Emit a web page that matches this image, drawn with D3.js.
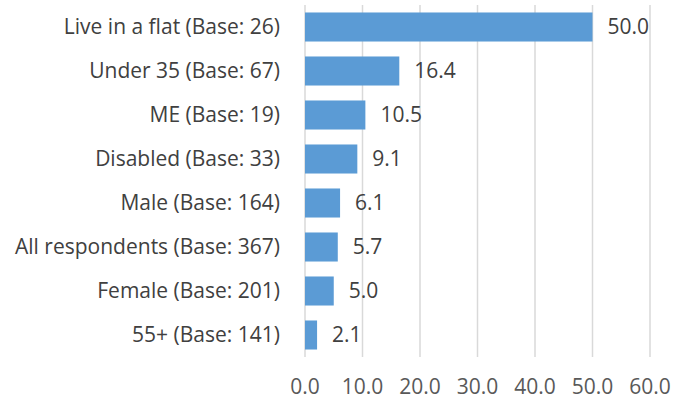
<!DOCTYPE html>
<html><head><meta charset="utf-8">
<script src="https://cdn.jsdelivr.net/npm/d3@7"></script>
<style>body{margin:0;background:#fff}</style>
</head><body>
<svg id="c" width="689" height="399"></svg>
<script>
const categories = ["Live in a flat (Base: 26)","Under 35 (Base: 67)","ME (Base: 19)","Disabled (Base: 33)","Male (Base: 164)","All respondents (Base: 367)","Female (Base: 201)","55+ (Base: 141)"];
const values = [50.0,16.4,10.5,9.1,6.1,5.7,5.0,2.1];
const ticks = [0,10,20,30,40,50,60];

const svg = d3.select("#c");
const font = "'Open Sans', sans-serif";
const fs = 21;
const x = d3.scaleLinear().domain([0,60]).range([305,650]);
const y = d3.scaleBand().domain(categories).range([5,357]).paddingInner(0.34).paddingOuter(0.17);

svg.append("g").selectAll("line").data(ticks).join("line")
  .attr("x1",d=>x(d)).attr("x2",d=>x(d)).attr("y1",5).attr("y2",357)
  .attr("stroke","#d9d9d9").attr("stroke-width",1.5);

svg.append("g").selectAll("rect").data(values).join("rect")
  .attr("x",x(0)).attr("y",(d,i)=>y(categories[i]))
  .attr("width",d=>x(d)-x(0)).attr("height",y.bandwidth())
  .attr("fill","#5b9bd5");

svg.append("g").selectAll("text").data(values).join("text")
  .attr("x",d=>x(d)+15).attr("y",(d,i)=>y(categories[i])+y.bandwidth()/2)
  .attr("dy","0.35em").attr("font-family",font).attr("font-size",fs)
  .attr("fill","#404040").text(d=>d.toFixed(1));

svg.append("g").selectAll("text").data(categories).join("text")
  .attr("x",280).attr("y",d=>y(d)+y.bandwidth()/2).attr("dy","0.35em")
  .attr("text-anchor","end").attr("font-family",font).attr("font-size",fs)
  .attr("fill","#404040").text(d=>d);

svg.append("g").selectAll("text").data(ticks).join("text")
  .attr("x",d=>x(d)).attr("y",387).attr("dy","0.35em")
  .attr("text-anchor","middle").attr("font-family",font).attr("font-size",fs)
  .attr("fill","#595959").text(d=>d.toFixed(1));
</script>
</body></html>
